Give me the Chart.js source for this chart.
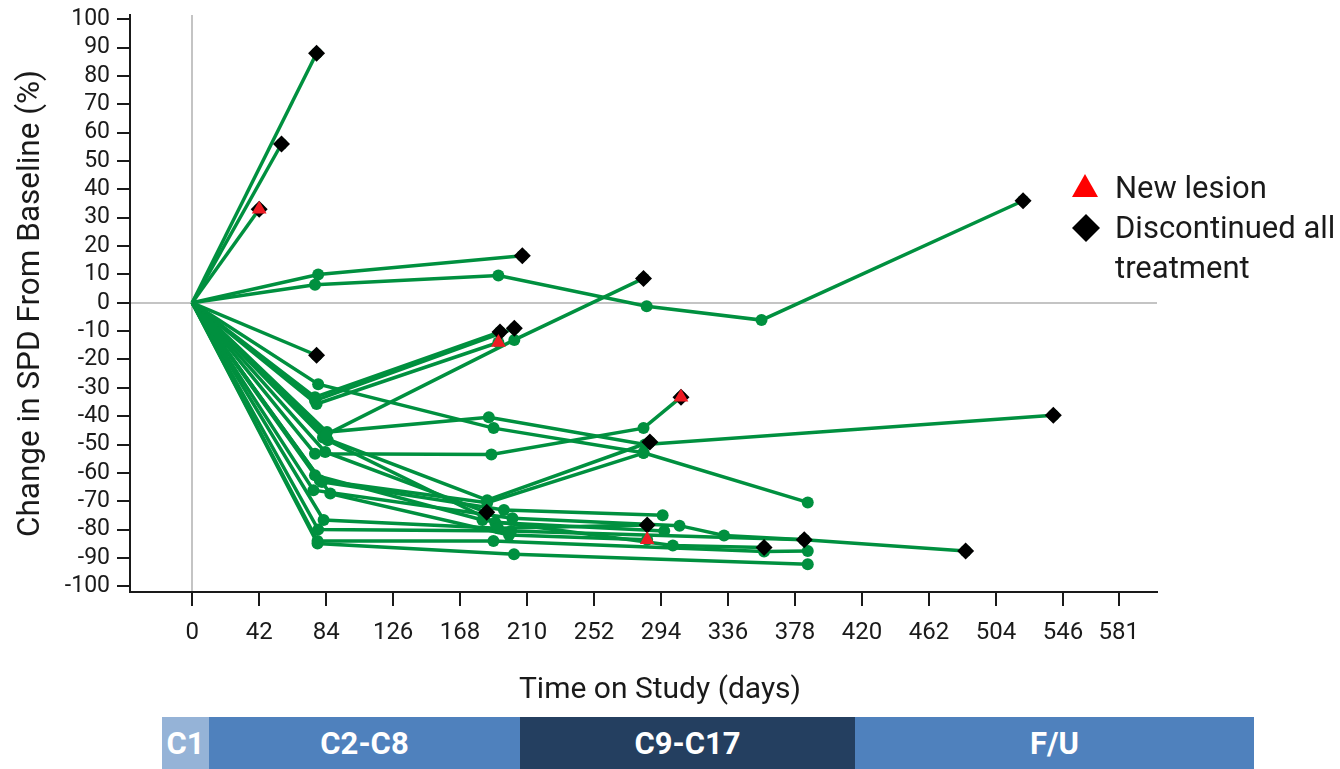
<!DOCTYPE html>
<html>
<head>
<meta charset="utf-8">
<script src="https://cdn.jsdelivr.net/npm/chart.js@4.4.1/dist/chart.umd.min.js"></script>
<style>
html,body{margin:0;padding:0;background:#fff;}
#wrap{position:relative;width:1340px;height:769px;overflow:hidden;font-family:Roboto,"Noto Sans",sans-serif;}
#chart{position:absolute;left:0;top:0;}
.lg-text{position:absolute;left:1115px;font-size:31px;line-height:40px;color:#1a1a1a;white-space:nowrap;}
.lg-mark{position:absolute;}
#xtitle{position:absolute;top:668px;left:460px;width:400px;text-align:center;font-size:30px;line-height:40px;color:#1a1a1a;white-space:nowrap;}
.phase{position:absolute;top:717px;height:52px;color:#fff;font-weight:bold;font-size:31px;display:flex;align-items:center;justify-content:center;white-space:nowrap;}
</style>
</head>
<body>
<div id="wrap">
  <canvas id="chart" width="1340" height="769"></canvas>
  <svg class="lg-mark" style="left:1072px;top:174px" width="26" height="24"><polygon points="13,0 26,23 0,23" fill="#ff0000"/></svg>
  <svg class="lg-mark" style="left:1072px;top:214px" width="28" height="28"><polygon points="14,0 28,14 14,28 0,14" fill="#000"/></svg>
  <div class="lg-text" id="lg1" style="top:168px"></div>
  <div class="lg-text" id="lg2" style="top:208px"></div>
  <div id="xtitle"></div>
  <div id="phases"></div>
</div>
<script>
// ---- data (day on study, % change in SPD) ----
const pt01 = [[0,0],[78,88]];
const pt02 = [[0,0],[56,56]];
const pt03 = [[0,0],[42,33]];
const pt04 = [[0,0],[79,10],[207,16.6]];
const pt05 = [[0,0],[77,6.4],[192,9.6],[285,-1.2],[357,-6.1],[521,36]];
const pt06 = [[0,0],[78,-18.5]];
const pt07 = [[0,0],[79,-28.7],[189,-44.2],[283,-52.9],[386,-70.4]];
const pt08 = [[0,0],[77,-33.3],[193,-10.3]];
const pt09 = [[0,0],[78,-35.7],[192,-14]];
const pt10 = [[0,0],[77,-34.5],[202,-9]];
const pt11 = [[0,0],[84,-46.5],[202,-13.1],[283,8.6]];
const pt12 = [[0,0],[84.5,-45.6],[186,-40.4],[284,-50],[540,-39.7]];
const pt13 = [[0,0],[82,-47.5],[185,-69.6],[287,-49.1]];
const pt14 = [[0,0],[80,-62.6],[185,-70.5],[283,-53]];
const pt15 = [[0,0],[77,-53.2],[187.6,-53.5],[283,-44.2],[306.5,-33.3]];
const pt16 = [[0,0],[81.4,-63.2],[195.5,-73.1],[295,-74.9]];
const pt17 = [[0,0],[76,-66.1],[200.8,-76],[305.6,-78.6],[333.5,-82.1],[383.8,-83.6]];
const pt18 = [[0,0],[83.4,-52.6],[184.7,-73.9]];
const pt19 = [[0,0],[86.6,-67.3],[198.7,-81.9],[285.3,-83.6]];
const pt20 = [[0,0],[82.4,-76.6],[191.8,-79.5],[285.3,-78.4]];
const pt21 = [[0,0],[77,-60.8],[182,-76.6],[301.4,-85.6],[358.6,-86.3]];
const pt22 = [[0,0],[78.6,-84],[188.9,-84],[358.6,-87.7],[386,-87.5]];
const pt23 = [[0,0],[78.6,-84.9],[201.8,-88.7],[386,-92.2]];
const pt24 = [[0,0],[79,-80],[200,-80.5],[383.8,-83.6],[485,-87.5]];
const pt25 = [[0,0],[85,-48.5],[190,-77.5],[296,-80.5]];

const discontinued = [[42,33],[78,88],[56,56],[207,16.6],[521,36],[78,-18.5],[193,-10.3],[202,-9],
  [283,8.6],[287,-49.1],[540,-39.7],[306.5,-33.3],[184.7,-73.9],[285.3,-78.4],[358.6,-86.3],[383.8,-83.6],[485,-87.5]];
const newLesion = [[42,33],[192,-14],[306.5,-33.3],[285.3,-83.6]];

const xTickValues = [0,42,84,126,168,210,252,294,336,378,420,462,504,546,581];
const yTickValues = [-100,-90,-80,-70,-60,-50,-40,-30,-20,-10,0,10,20,30,40,50,60,70,80,90,100];
const xTitle = 'Time on Study (days)';
const yTitle = 'Change in SPD From Baseline (%)';
const legendLabels = ['New lesion', 'Discontinued all treatment'];
const phaseLabels = ['C1','C2-C8','C9-C17','F/U'];

// ---- rendering ----
const patients = [pt01,pt02,pt03,pt04,pt05,pt06,pt07,pt08,pt09,pt10,pt11,pt12,pt13,pt14,pt15,pt16,pt17,pt18,pt19,pt20,pt21,pt22,pt23,pt24,pt25];
const GREEN = '#00903f';
const toXY = arr => arr.map(([x,y]) => ({x, y}));

const datasets = patients.map((pts, i) => ({
  type: 'line',
  label: 'Patient ' + (i + 1),
  data: toXY(pts),
  borderColor: GREEN,
  backgroundColor: GREEN,
  borderWidth: 3.5,
  pointStyle: 'circle',
  pointRadius: c => c.dataIndex === 0 ? 0 : 6,
  pointHoverRadius: c => c.dataIndex === 0 ? 0 : 6,
  pointBorderWidth: 0,
  tension: 0,
  order: 2
}));
datasets.push({
  type: 'scatter', label: legendLabels[1], data: toXY(discontinued),
  pointStyle: 'rectRot', pointRadius: 8.5, pointHoverRadius: 8.5,
  backgroundColor: '#000', borderColor: '#000', borderWidth: 0, order: 1
});
datasets.push({
  type: 'scatter', label: legendLabels[0], data: toXY(newLesion),
  pointStyle: 'triangle', pointRadius: 8.5, pointHoverRadius: 8.5,
  backgroundColor: '#ee1c24', borderColor: '#ee1c24', borderWidth: 0, order: 0
});

const TXT = '#1a1a1a';
new Chart(document.getElementById('chart'), {
  data: { datasets },
  options: {
    responsive: false,
    animation: false,
    events: [],
    layout: { padding: { left: 0, top: 15, right: 183, bottom: 63 } },
    plugins: { legend: { display: false }, tooltip: { enabled: false } },
    scales: {
      x: {
        type: 'linear', min: -39, max: 605,
        afterBuildTicks: s => { s.ticks = xTickValues.map(v => ({ value: v })); },
        afterFit: s => { s.height = 114; s.paddingLeft = 0; s.paddingRight = 0; },
        ticks: { autoSkip: false, maxRotation: 0, padding: 13, color: TXT,
                 font: { family: 'Roboto', size: 24 }, callback: v => String(v) },
        grid: { drawOnChartArea: true, lineWidth: 2, tickLength: 14, tickColor: TXT, tickWidth: 2,
                color: c => (c.tick && c.tick.value === 0) ? '#c4c4c4' : 'rgba(0,0,0,0)' },
        border: { display: true, color: TXT, width: 2 },
        title: { display: false }
      },
      y: {
        type: 'linear', min: -102, max: 101.5,
        afterBuildTicks: s => { s.ticks = yTickValues.map(v => ({ value: v })); },
        afterFit: s => { s.width = 130; s.paddingTop = 0; s.paddingBottom = 0; },
        ticks: { autoSkip: false, padding: 7, color: TXT,
                 font: { family: 'Roboto', size: 23 }, callback: v => String(v) },
        grid: { drawOnChartArea: true, lineWidth: 2, tickLength: 13, tickColor: TXT, tickWidth: 2,
                color: c => (c.tick && c.tick.value === 0) ? '#c4c4c4' : 'rgba(0,0,0,0)' },
        border: { display: true, color: TXT, width: 2 },
        title: { display: true, text: yTitle, color: TXT, padding: { top: 12, bottom: 0 }, font: { family: 'Roboto', size: 31.5 } }
      }
    }
  }
});

// x-axis title, legend text, phase bar
document.getElementById('xtitle').textContent = xTitle;
document.getElementById('lg1').textContent = legendLabels[0];
const words = legendLabels[1].split(' ');
document.getElementById('lg2').innerHTML = words.slice(0, 2).join(' ') + '<br>' + words.slice(2).join(' ');

const phaseStyle = [
  { left: 162, right: 209, bg: '#95b3d7' },
  { left: 209, right: 520, bg: '#4f81bd' },
  { left: 520, right: 855, bg: '#243f60' },
  { left: 855, right: 1254, bg: '#4f81bd' }
];
const ph = document.getElementById('phases');
phaseLabels.forEach((lab, i) => {
  const d = document.createElement('div');
  d.className = 'phase';
  d.style.left = phaseStyle[i].left + 'px';
  d.style.width = (phaseStyle[i].right - phaseStyle[i].left) + 'px';
  d.style.background = phaseStyle[i].bg;
  d.textContent = lab;
  ph.appendChild(d);
});
</script>
</body>
</html>
